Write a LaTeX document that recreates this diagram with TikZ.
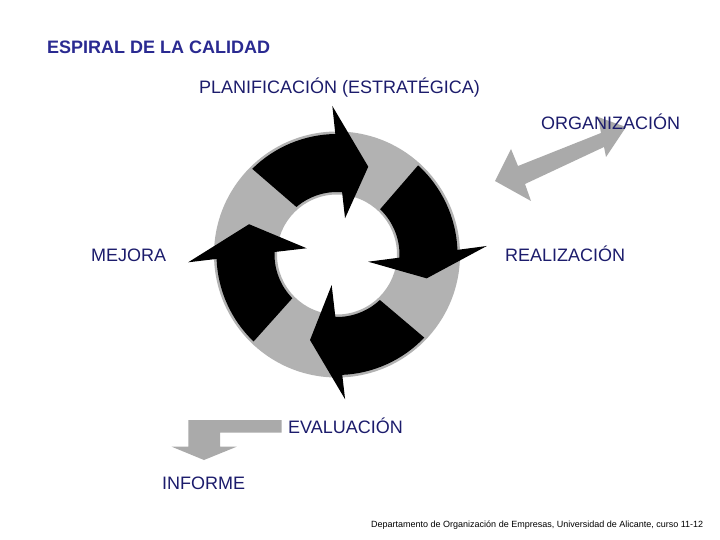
\documentclass[tikz,border=0pt]{standalone}
\usepackage{fontspec}
\setmainfont{Liberation Sans}
\definecolor{lbl}{RGB}{28,28,108}
\definecolor{ttl}{RGB}{42,42,145}
\definecolor{ringgray}{RGB}{178,178,178}
\definecolor{arrgray}{RGB}{170,170,170}
\begin{document}
\begin{tikzpicture}[x=1pt,y=1pt,
  lab/.style={font=\fontsize{18}{20}\selectfont, text=lbl, anchor=base west, inner sep=0pt},
  blk/.style={fill=black},
  grayarrow/.style={fill=arrgray}]
\useasboundingbox (0,0) rectangle (720,-540);
\fill[white] (0,0) rectangle (720,-540);

% ring with four curved arrows
\begin{scope}[shift={(337,-254.5)}]
  \fill[ringgray, even odd rule] (0,0) circle[radius=123pt] (0,0) circle[radius=60pt];
  % top
  \fill[blk] (134.7:120.5) arc[start angle=134.7,end angle=90.8,radius=120.5pt]
    -- (91.8:148.6) -- (70.4:93.2) -- (77.5:37.1) -- (85.3:62.5)
    arc[start angle=85.3,end angle=130.5,radius=62.5pt] -- cycle;
  % right
  \fill[blk] (47.7:120.5) arc[start angle=47.7,end angle=2.2,radius=120.5pt]
    -- (3.25:150) -- (-14.9:92.8) -- (-13:32) -- (-2.9:62.5)
    arc[start angle=-2.9,end angle=46.4,radius=62.5pt] -- cycle;
  % bottom
  \fill[blk] (316.4:120.5) arc[start angle=316.4,end angle=272.5,radius=120.5pt]
    -- (273.2:145) -- (252.5:89.7) -- (260.1:31) -- (268.5:62.5)
    arc[start angle=268.5,end angle=313.3,radius=62.5pt] -- cycle;
  % left
  \fill[blk] (226.2:120.5) arc[start angle=226.2,end angle=182.1,radius=120.5pt]
    -- (183:149) -- (161:93) -- (168.4:31) -- (177.7:62.5)
    arc[start angle=177.7,end angle=224.4,radius=62.5pt] -- cycle;
\end{scope}

% double arrow near ORGANIZACION
\fill[grayarrow] (495,-181) -- (511,-149) -- (518,-166) -- (601,-133) -- (598,-117)
  -- (626,-127) -- (606,-157) -- (604,-147) -- (525,-184) -- (531,-201) -- cycle;

% bent arrow to INFORME
\fill[grayarrow] (188.3,-420) -- (281.7,-420) -- (281.7,-432.7) -- (220,-432.7)
  -- (220,-446.7) -- (236.7,-446.7) -- (204,-460) -- (171.7,-446.7)
  -- (188.3,-446.7) -- cycle;

% texts
\node[lab, font=\bfseries\fontsize{18}{20}\selectfont, text=ttl] (title) at (47,-54) {ESPIRAL DE LA CALIDAD};
\node[lab] (plan) at (199,-94) {PLANIFICACIÓN (ESTRATÉGICA)};
\node[lab] (org) at (541,-129.3) {ORGANIZACIÓN};
\node[lab] (mejora) at (91,-261) {MEJORA};
\node[lab] (real) at (505,-261) {REALIZACIÓN};
\node[lab] (eval) at (288,-433.5) {EVALUACIÓN};
\node[lab] (informe) at (162,-489) {INFORME};
\node[anchor=base west, inner sep=0pt, font=\fontsize{9}{10}\selectfont, text=black] (footer) at (371,-527.5)
  {Departamento de Organización de Empresas, Universidad de Alicante, curso 11-12};
\end{tikzpicture}
\end{document}
